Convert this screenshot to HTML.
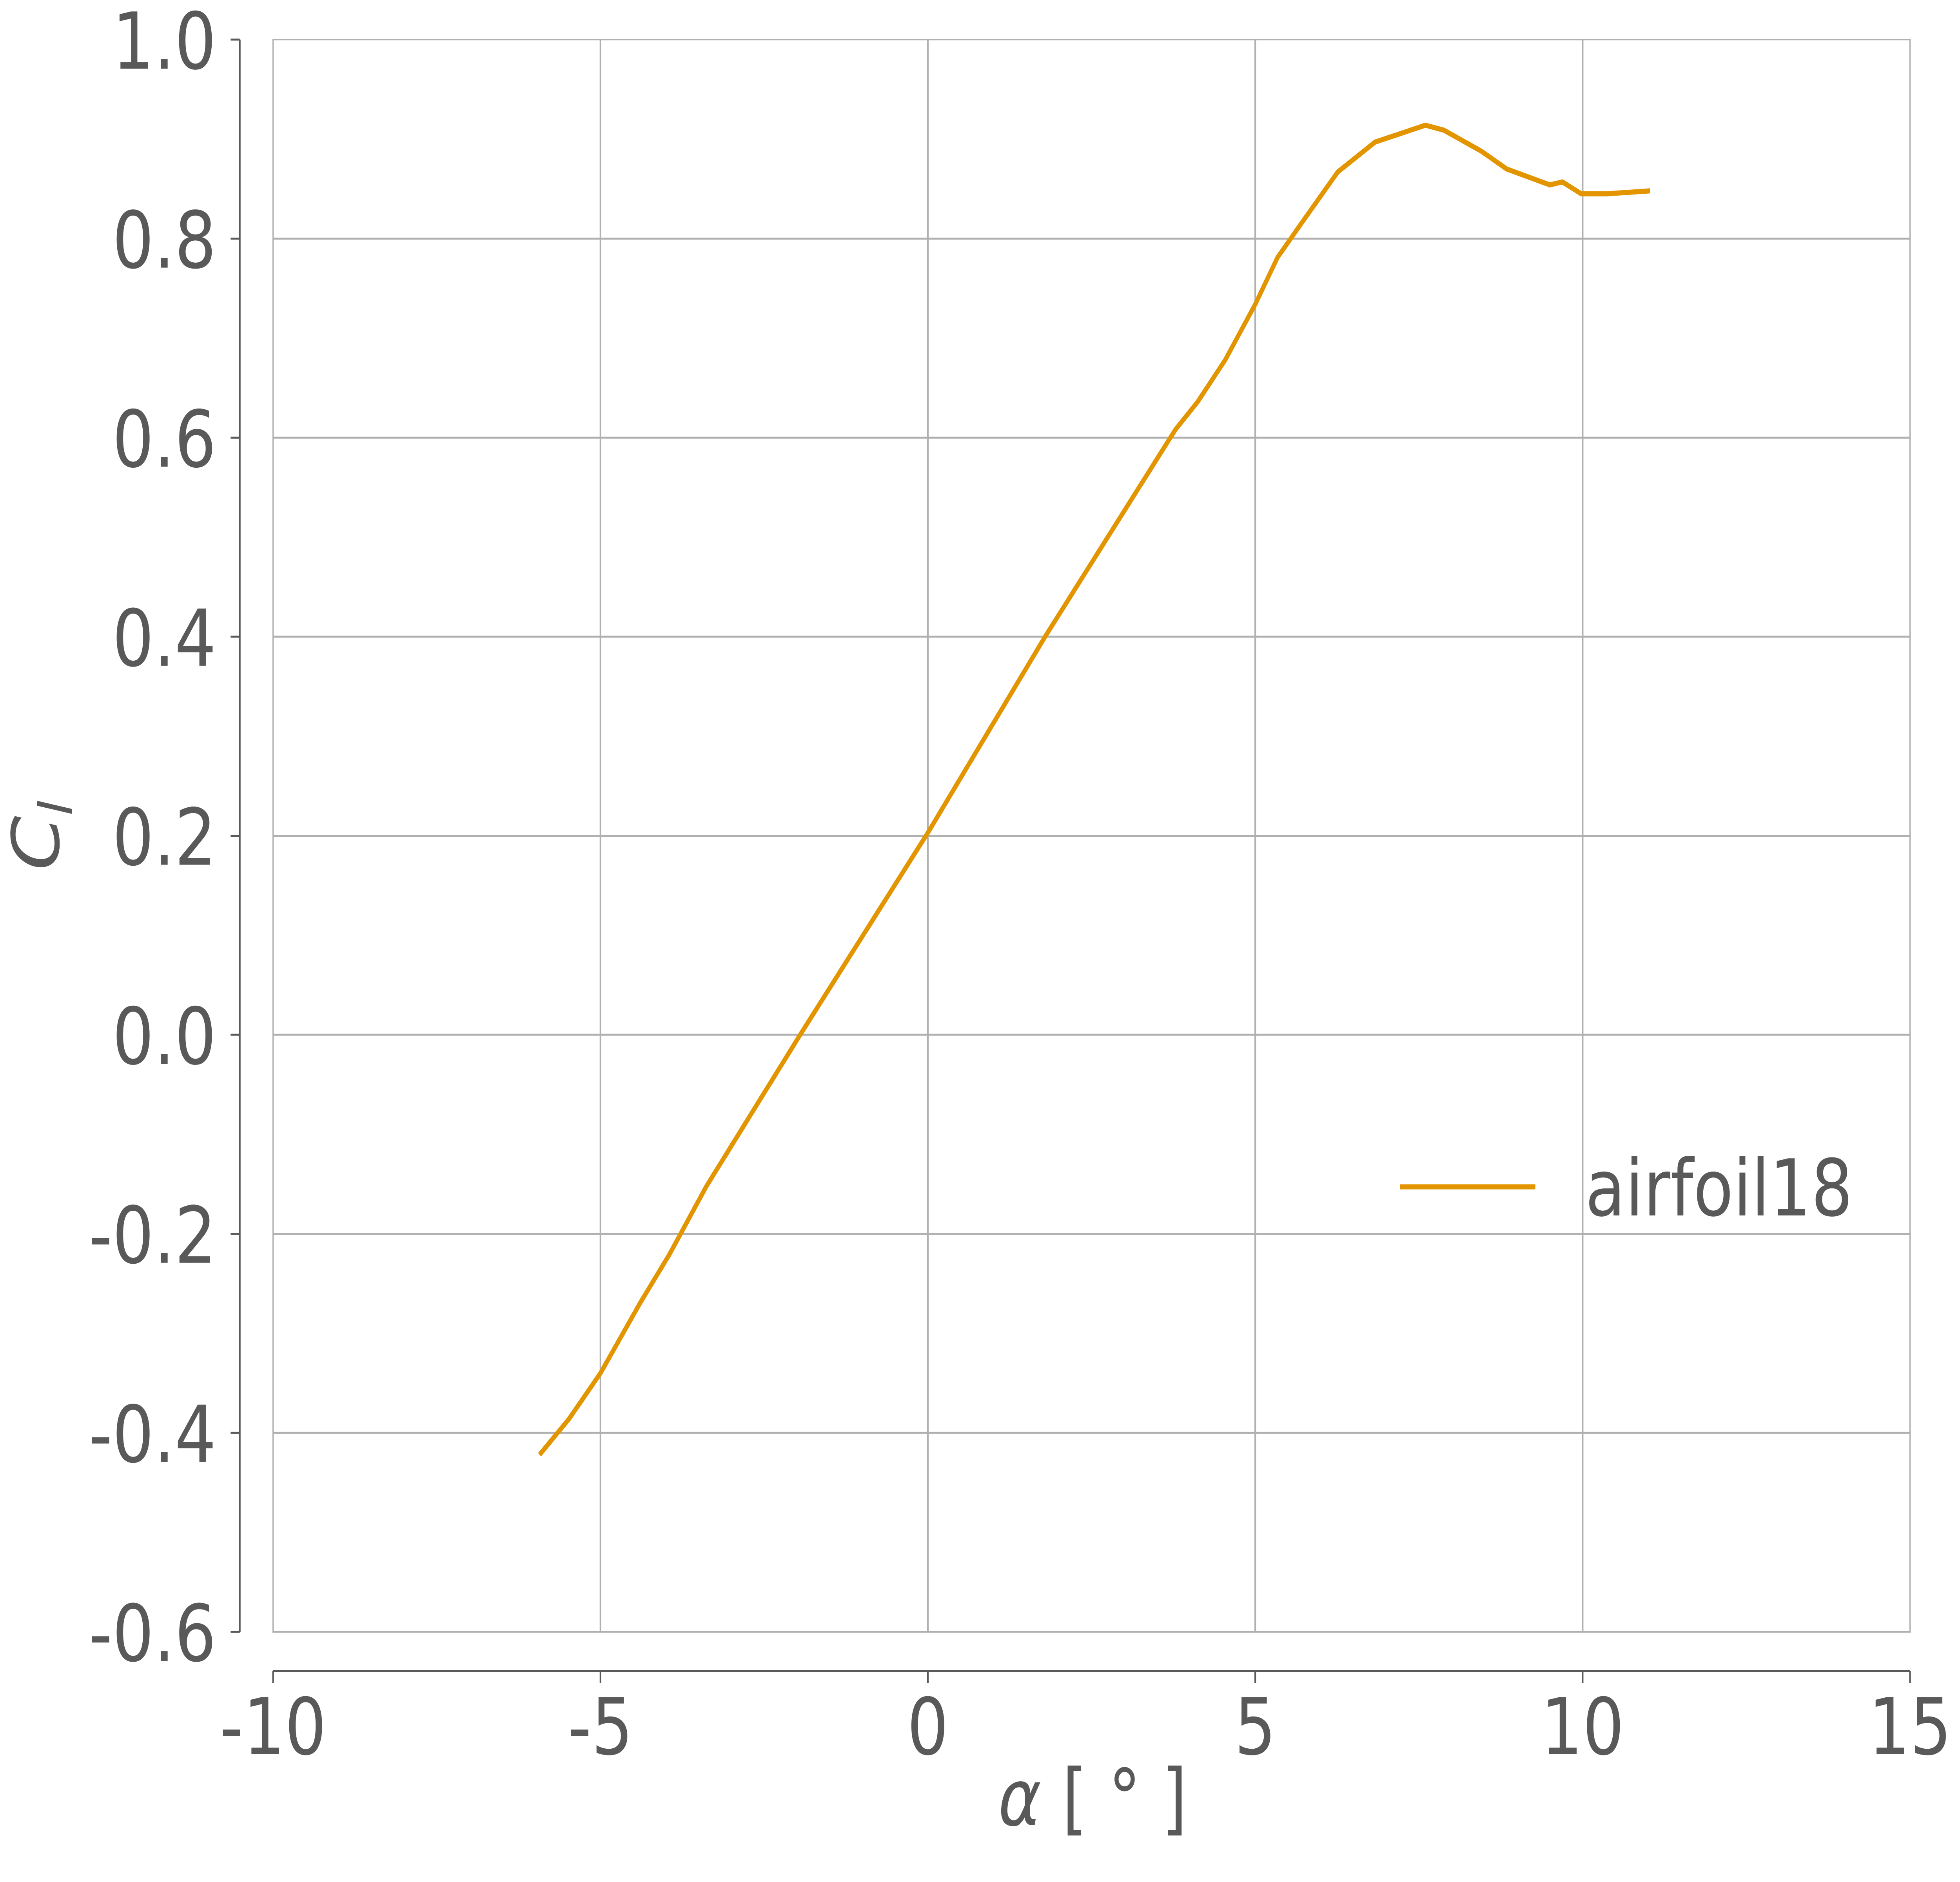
<!DOCTYPE html>
<html><head><meta charset="utf-8"><style>html,body{margin:0;padding:0;background:#fff;overflow:hidden;width:100%;height:100%}svg{display:block;width:100vw;height:100vh}text{font-family:"DejaVu Sans","Liberation Sans",sans-serif;fill:#595959}</style></head>
<body>
<svg id="chart" viewBox="0 0 6000 4800" preserveAspectRatio="none" xmlns="http://www.w3.org/2000/svg">
<g id="grid"></g>
<rect x="836" y="101" width="5011" height="4061" fill="none" stroke="#b0b0b0" stroke-width="4"/>
<g id="axes"></g>
<path id="series" fill="none" stroke="#e39500" stroke-width="13" stroke-linejoin="round"/>
<g>
<line x1="4286" y1="3027" x2="4700" y2="3027" stroke="#e39500" stroke-width="13"/>
<text x="4853" y="3100" font-size="200">airfoil18</text>
</g>
<text x="3345" y="4655" font-size="200" text-anchor="middle"><tspan font-style="italic">α</tspan> [ ° ]</text>
<text transform="translate(180,2131) rotate(-90)" font-size="200" text-anchor="middle"><tspan font-style="italic">C</tspan><tspan font-style="italic" font-size="140" dy="40">l</tspan></text>
</svg>
<script>
const alphaValues = [-5.93,-5.48,-5.0,-4.39,-3.95,-3.38,-1.95,0.0,1.79,3.78,4.12,4.54,5.0,5.34,5.69,6.26,6.83,7.6,7.88,8.45,8.84,9.5,9.69,9.98,10.36,11.03];
const clValues = [-0.422,-0.386,-0.34,-0.269,-0.221,-0.152,0.0,0.203,0.4,0.608,0.636,0.678,0.734,0.781,0.814,0.867,0.897,0.914,0.909,0.888,0.87,0.854,0.857,0.845,0.845,0.848];
const xTicks = [-10,-5,0,5,10,15];
const xTickLabels = ["-10","-5","0","5","10","15"];
const yTicks = [-0.6,-0.4,-0.2,0.0,0.2,0.4,0.6,0.8,1.0];
const yTickLabels = ["-0.6","-0.4","-0.2","0.0","0.2","0.4","0.6","0.8","1.0"];

const X0=836, X1=5847, Y0=4162, Y1=101;
function sx(v){return X0+(v-(-10))/25*(X1-X0);}
function sy(v){return Y0-(v-(-0.6))/1.6*(Y0-Y1);}
const NS="http://www.w3.org/2000/svg";
const grid=document.getElementById('grid'), axes=document.getElementById('axes');
function mk(tag,attrs,parent){const e=document.createElementNS(NS,tag);for(const k in attrs)e.setAttribute(k,attrs[k]);parent.appendChild(e);return e;}

xTicks.forEach((t,i)=>{
  const x=sx(t);
  if(i>0&&i<xTicks.length-1){
    const g=mk('line',{x1:x,y1:Y1,x2:x,y2:Y0,stroke:'#b0b0b0','stroke-width':5},grid);
    
    
  }
  const tk=mk('line',{x1:x,y1:4262,x2:x,y2:4292,stroke:'#595959','stroke-width':5},axes);
  
  
  const lb=mk('text',{x:x,y:4474,'font-size':200,'text-anchor':'middle'},axes);
  lb.textContent=xTickLabels[i];
  
  
});
yTicks.forEach((t,i)=>{
  const y=sy(t);
  if(i>0&&i<yTicks.length-1){
    const g=mk('line',{x1:X0,y1:y,x2:X1,y2:y,stroke:'#b0b0b0','stroke-width':5},grid);
    
    
  }
  const tk=mk('line',{x1:706,y1:y,x2:734,y2:y,stroke:'#595959','stroke-width':5},axes);
  
  
  const lb=mk('text',{x:662,y:y+74,'font-size':200,'text-anchor':'end'},axes);
  lb.textContent=yTickLabels[i];
  
  
});
const xs=mk('line',{x1:X0,y1:4262,x2:X1,y2:4262,stroke:'#595959','stroke-width':5},axes);


const ys=mk('line',{x1:734,y1:Y1,x2:734,y2:Y0,stroke:'#595959','stroke-width':5},axes);



document.getElementById('series').setAttribute('d',alphaValues.map((a,i)=>(i?'L':'M')+sx(a).toFixed(1)+' '+sy(clValues[i]).toFixed(1)).join(' '));
</script>
</body></html>
